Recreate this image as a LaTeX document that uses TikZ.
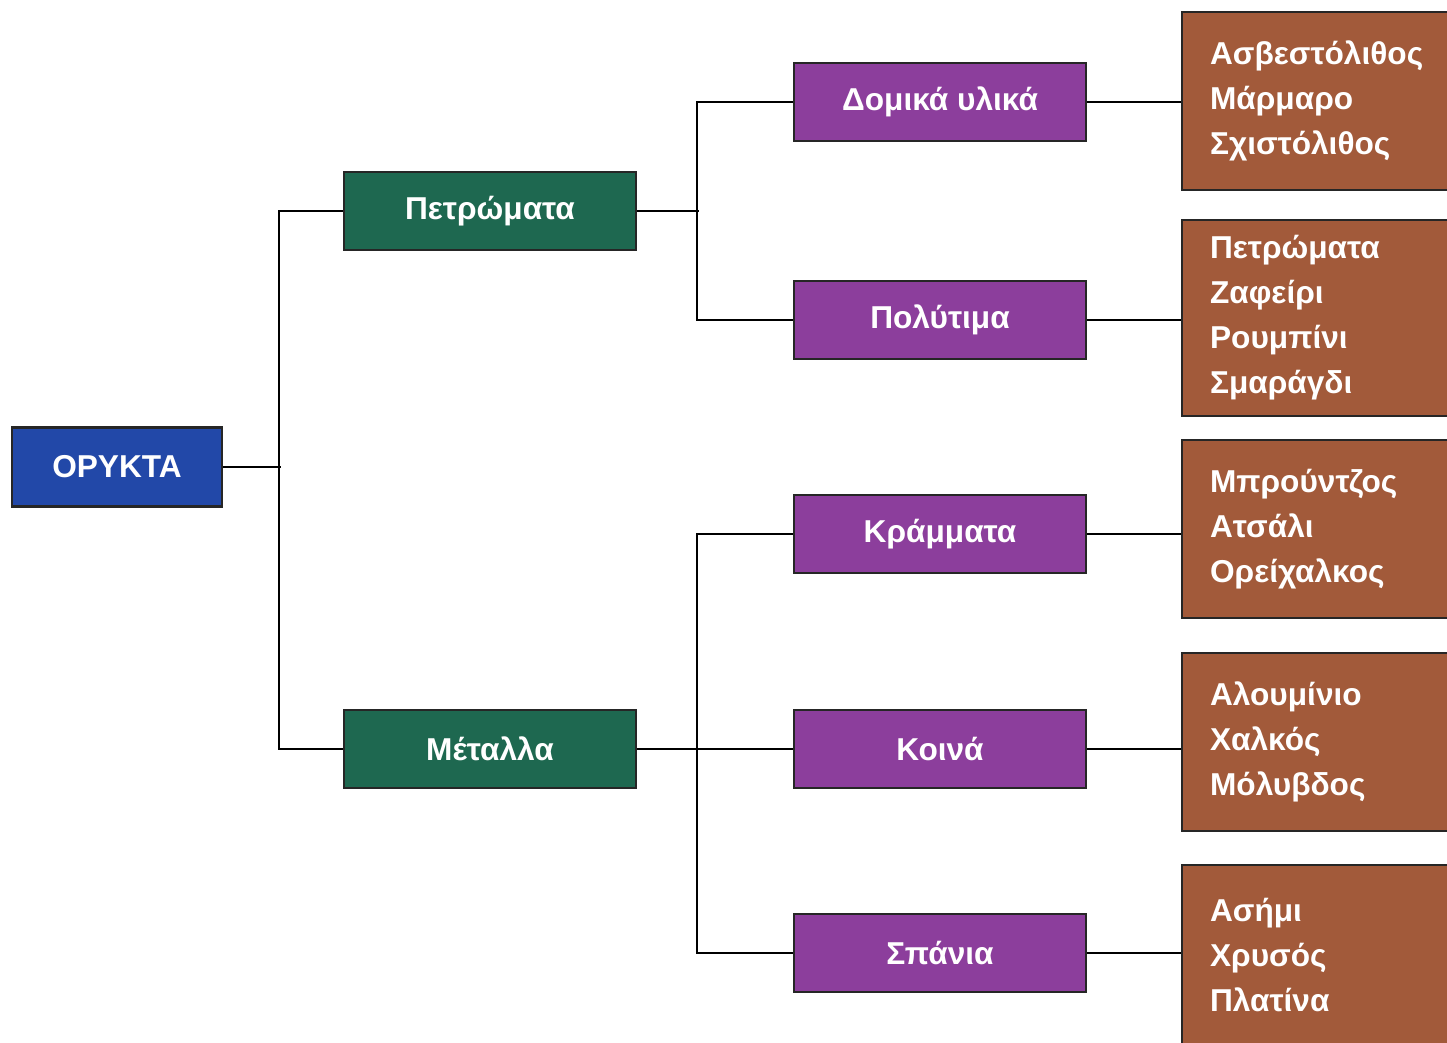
\documentclass[tikz,border=0pt]{standalone}
\usepackage{fontspec}
\setmainfont{Liberation Sans}
\usepackage{xcolor}
\usepackage{tikz}
\definecolor{orykblue}{RGB}{34,72,168}
\definecolor{petrgreen}{RGB}{30,104,80}
\definecolor{katpurple}{RGB}{140,62,156}
\definecolor{eidbrown}{RGB}{162,90,58}
\tikzset{
  box/.style={draw=black!85,line width=0.6pt,text=white,
    font=\bfseries\fontsize{9.0}{12.8}\selectfont,inner sep=0pt},
  orykbox/.style={box,fill=orykblue,minimum width=2.10cm,minimum height=0.79cm},
  omadabox/.style={box,fill=petrgreen,minimum width=2.92cm,minimum height=0.78cm},
  katbox/.style={box,fill=katpurple,minimum width=2.92cm,minimum height=0.78cm},
  eidbox/.style={box,fill=eidbrown,anchor=west,minimum width=2.90cm,
    text width=2.34cm,inner xsep=0.28cm,align=left},
  syndesi/.style={black,line width=0.6pt}
}
\begin{document}
\begin{tikzpicture}
\useasboundingbox (0,0) rectangle (14.47,10.43);
\fill[white] (0,0) rectangle (14.47,10.43);
% riza
\node[orykbox] (oryk) at (1.17,5.76) {ΟΡΥΚΤΑ};
% omades
\node[omadabox] (petr) at (4.90,8.32) {Πετρώματα};
\node[omadabox] (metal) at (4.90,2.94) {Μέταλλα};
% katigories
\node[katbox] (domika) at (9.40,9.41) {Δομικά υλικά};
\node[katbox] (polyt) at (9.40,7.23) {Πολύτιμα};
\node[katbox] (kram) at (9.40,5.09) {Κράμματα};
\node[katbox] (koina) at (9.40,2.94) {Κοινά};
\node[katbox] (spania) at (9.40,0.90) {Σπάνια};
% eidi
\node[eidbox,minimum height=1.78cm] (eid1) at (11.81,9.42) {Ασβεστόλιθος\\Μάρμαρο\\Σχιστόλιθος};
\node[eidbox,minimum height=1.96cm] (eid2) at (11.81,7.25) {Πετρώματα\\Ζαφείρι\\Ρουμπίνι\\Σμαράγδι};
\node[eidbox,minimum height=1.78cm] (eid3) at (11.81,5.14) {Μπρούντζος\\Ατσάλι\\Ορείχαλκος};
\node[eidbox,minimum height=1.78cm] (eid4) at (11.81,3.01) {Αλουμίνιο\\Χαλκός\\Μόλυβδος};
\node[eidbox,minimum height=1.80cm] (eid5) at (11.81,0.88) {Ασήμι\\Χρυσός\\Πλατίνα};
% grammes
\draw[syndesi] (oryk.east) -- ++(0.58,0);
\draw[syndesi] (petr.west) -- ++(-0.64,0) |- (metal.west);
\draw[syndesi] (petr.east) -- ++(0.62,0);
\draw[syndesi] (domika.west) -- ++(-0.96,0) |- (polyt.west);
\draw[syndesi] (metal.east) -- (koina.west);
\draw[syndesi] (kram.west) -- ++(-0.96,0) |- (spania.west);
\draw[syndesi] (domika.east) -- (domika.east -| eid1.west);
\draw[syndesi] (polyt.east) -- (polyt.east -| eid2.west);
\draw[syndesi] (kram.east) -- (kram.east -| eid3.west);
\draw[syndesi] (koina.east) -- (koina.east -| eid4.west);
\draw[syndesi] (spania.east) -- (spania.east -| eid5.west);
\end{tikzpicture}
\end{document}
